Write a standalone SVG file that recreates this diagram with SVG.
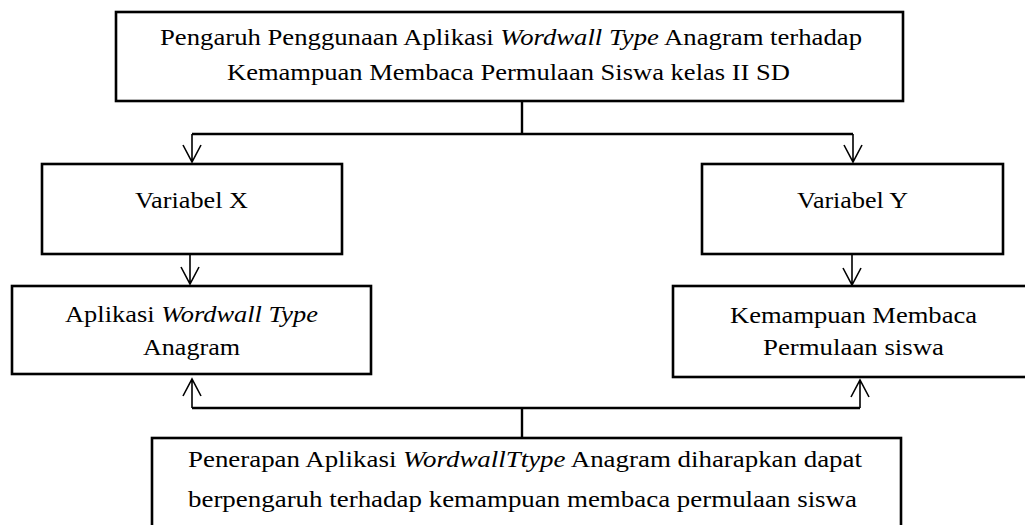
<svg xmlns="http://www.w3.org/2000/svg" width="1025" height="525" viewBox="0 0 1025 525">
<defs>
<style>
.box{fill:#fff;stroke:#000;stroke-width:2.6}
.ln{fill:none;stroke:#000;stroke-width:2.4}
.ah{fill:none;stroke:#000;stroke-width:1.6}
</style>
</defs>
<rect width="1025" height="525" fill="#fff"/>
<g id="connectors">
<path class="ln" d="M522,101 V134 M192,134 H853"/>
<path class="ah" d="M192,134 V162 M183,145 L192,162 L201,145"/>
<path class="ah" d="M853,134 V162 M844,145 L853,162 L862,145"/>
<path class="ah" d="M190,254 V284 M181,267 L190,284 L199,267"/>
<path class="ah" d="M852,254 V285 M843,268 L852,285 L861,268"/>
<path class="ln" d="M522,438 V408 M192,408 H860"/>
<path class="ah" d="M192,408 V379 M183,396 L192,379 L201,396"/>
<path class="ah" d="M860,408 V380 M851,397 L860,380 L869,397"/>
</g>
<g id="n-top">
<rect class="box" x="116" y="12" width="787" height="89"/>
<text x="511" y="45" font-family="'Liberation Serif', serif" font-size="23.5" text-anchor="middle" textLength="702" lengthAdjust="spacingAndGlyphs">Pengaruh Penggunaan Aplikasi <tspan font-style="italic">Wordwall Type</tspan> Anagram terhadap</text>
<text x="508.5" y="80" font-family="'Liberation Serif', serif" font-size="23.5" text-anchor="middle" textLength="563" lengthAdjust="spacingAndGlyphs">Kemampuan Membaca Permulaan Siswa kelas II SD</text>
</g>
<g id="n-varx">
<rect class="box" x="42" y="164" width="300" height="90"/>
<text x="191.5" y="208" font-family="'Liberation Serif', serif" font-size="23.5" text-anchor="middle" textLength="113" lengthAdjust="spacingAndGlyphs">Variabel X</text>
</g>
<g id="n-vary">
<rect class="box" x="702" y="164" width="301" height="90"/>
<text x="852.5" y="208" font-family="'Liberation Serif', serif" font-size="23.5" text-anchor="middle" textLength="111" lengthAdjust="spacingAndGlyphs">Variabel Y</text>
</g>
<g id="n-apl">
<rect class="box" x="12" y="286" width="359" height="88"/>
<text x="191.5" y="322" font-family="'Liberation Serif', serif" font-size="23.5" text-anchor="middle" textLength="253" lengthAdjust="spacingAndGlyphs">Aplikasi <tspan font-style="italic">Wordwall Type</tspan></text>
<text x="191.5" y="355" font-family="'Liberation Serif', serif" font-size="23.5" text-anchor="middle" textLength="97" lengthAdjust="spacingAndGlyphs">Anagram</text>
</g>
<g id="n-kem">
<rect class="box" x="673" y="286" width="360" height="91"/>
<text x="853.5" y="323" font-family="'Liberation Serif', serif" font-size="23.5" text-anchor="middle" textLength="247" lengthAdjust="spacingAndGlyphs">Kemampuan Membaca</text>
<text x="853.5" y="355" font-family="'Liberation Serif', serif" font-size="23.5" text-anchor="middle" textLength="181" lengthAdjust="spacingAndGlyphs">Permulaan siswa</text>
</g>
<g id="n-pen">
<rect class="box" x="152" y="438" width="749" height="100"/>
<text x="525" y="467" font-family="'Liberation Serif', serif" font-size="23.5" text-anchor="middle" textLength="674" lengthAdjust="spacingAndGlyphs">Penerapan Aplikasi <tspan font-style="italic">WordwallTtype</tspan> Anagram diharapkan dapat</text>
<text x="522.5" y="507" font-family="'Liberation Serif', serif" font-size="23.5" text-anchor="middle" textLength="669" lengthAdjust="spacingAndGlyphs">berpengaruh terhadap kemampuan membaca permulaan siswa</text>
</g>
</svg>
